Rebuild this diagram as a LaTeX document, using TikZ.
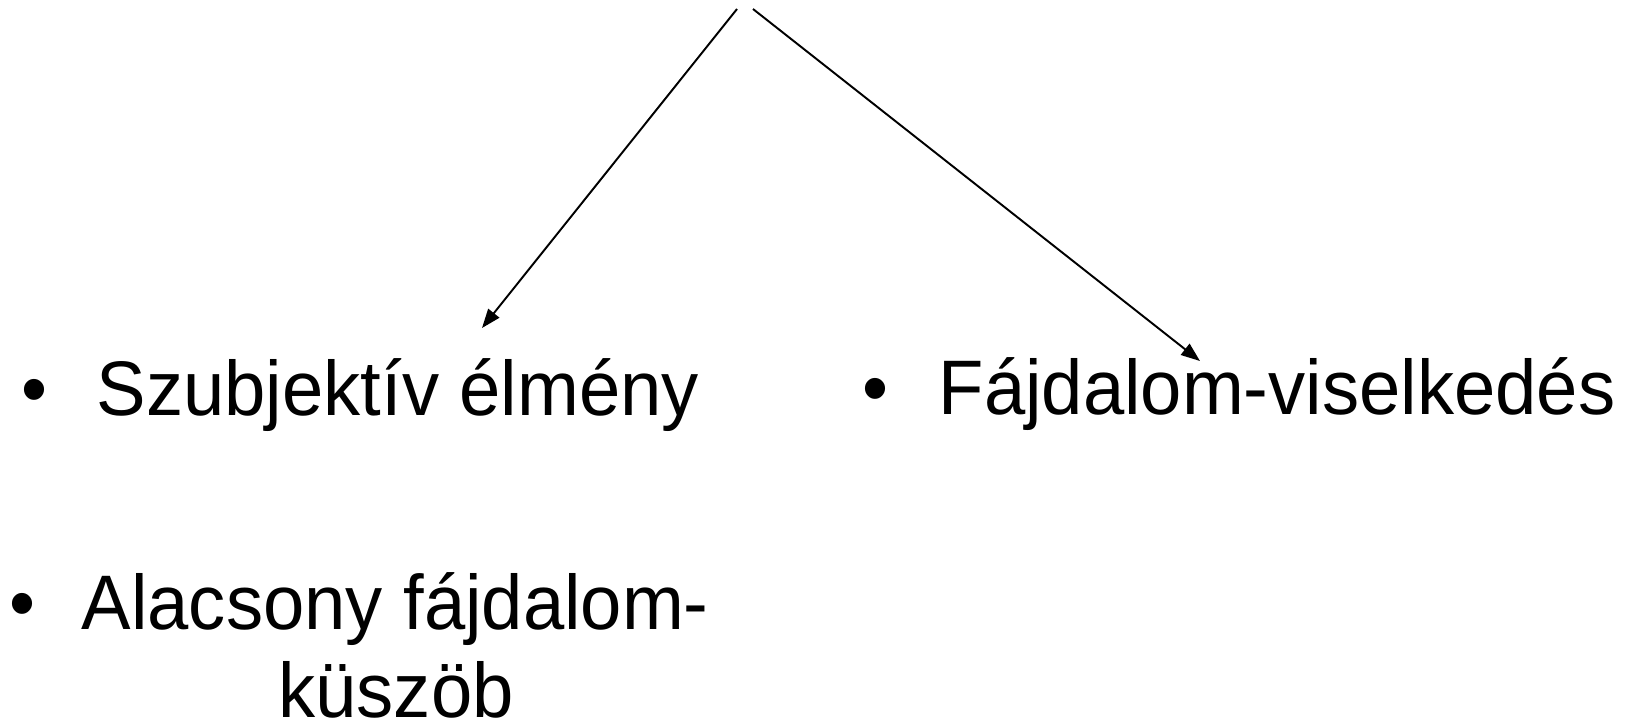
\documentclass[tikz,border=0pt]{standalone}
\usepackage{fontspec}
\setmainfont{Liberation Sans}[FakeStretch=0.96]
\usetikzlibrary{arrows.meta}

\begin{document}
\begin{tikzpicture}[
    item/.style={anchor=base west, inner sep=0pt, font=\fontsize{22}{25}\selectfont},
    dot/.style={anchor=base, inner sep=0pt, font=\fontsize{22}{25}\selectfont},
    link/.style={line width=0.55pt, -{Triangle[length=0.19cm, width=0.14cm]}}]
    \useasboundingbox (0,0) rectangle (16.34,-7.21);
    \coordinate (T1) at (7.37,-0.09);
    \coordinate (T2) at (7.53,-0.09);
    \coordinate (E1) at (4.82,-3.28);
    \coordinate (E2) at (12.00,-3.61);
    \node [dot] (D1) at (0.34,-4.15) {•};
    \node [item] (szub) at (0.96,-4.15) {Szubjektív élmény};
    \node [dot] (D2) at (8.75,-4.14) {•};
    \node [item] (fajd) at (9.38,-4.14) {Fájdalom-viselkedés};
    \node [dot] (D3) at (0.22,-6.29) {•};
    \node [item] (alac) at (0.81,-6.29) {Alacsony fájdalom-};
    \node [dot] (kusz) at (3.96,-7.17) {küszöb};
    \draw[link] (T1)--(E1);
    \draw[link] (T2)--(E2);
\end{tikzpicture}
\end{document}
